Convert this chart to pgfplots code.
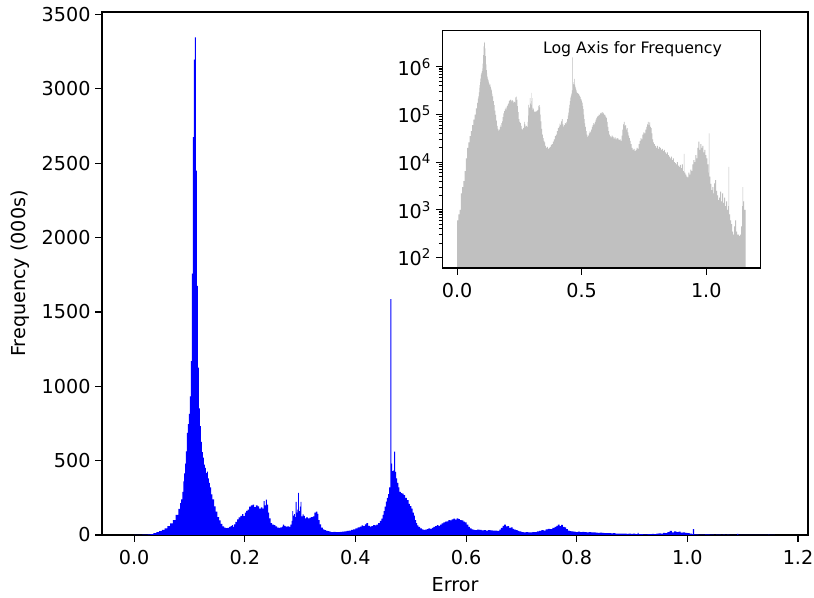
\documentclass[border=0pt]{standalone}
\usepackage{fontspec}
\setmainfont{DejaVu Sans}
\usepackage{pgfplots}
\usepackage{pgfplotstable}
\pgfplotsset{compat=1.18}
\definecolor{histblue}{HTML}{0000FF}
\definecolor{histgray}{HTML}{C0C0C0}

% bin left edge (error) and count in thousands
\pgfplotstableread{
x f
0.0000 0.6
0.0050 0.8
0.0100 1.0
0.0150 2.2
0.0200 3.0
0.0250 4.0
0.0300 6.5
0.0350 12
0.0400 20
0.0450 26
0.0500 35
0.0550 45
0.0600 60
0.0650 78
0.0700 100
0.0750 135
0.0800 175
0.0830 215
0.0850 240
0.0870 290
0.0890 360
0.0905 415
0.0920 480
0.0937 563
0.0955 686
0.0973 745
0.0991 815
0.1009 933
0.1027 1169
0.1045 1757
0.1063 2675
0.1081 3197
0.1099 3346
0.1117 2451
0.1135 1675
0.1153 1126
0.1171 851
0.1189 733
0.1207 627
0.1225 557
0.1243 521
0.1261 474
0.1279 451
0.1297 416
0.1315 427
0.1333 380
0.1351 350
0.1370 321
0.1390 274
0.1415 239
0.1445 192
0.1475 157
0.1505 121
0.1535 98
0.1565 74
0.1595 58
0.1625 50
0.1655 46
0.1685 48
0.1715 55
0.1745 60
0.1765 66
0.1785 55
0.1805 72
0.1830 88
0.1860 105
0.1890 118
0.1920 128
0.1950 140
0.1975 127
0.2000 150
0.2025 162
0.2050 170
0.2080 190
0.2110 200
0.2140 205
0.2170 188
0.2200 200
0.2230 192
0.2260 178
0.2290 185
0.2320 178
0.2340 228
0.2360 200
0.2380 238
0.2400 205
0.2420 150
0.2440 112
0.2465 80
0.2495 70
0.2525 66
0.2555 58
0.2585 50
0.2615 48
0.2645 52
0.2675 56
0.2690 70
0.2710 62
0.2740 56
0.2770 58
0.2800 55
0.2825 70
0.2845 95
0.2860 160
0.2875 130
0.2890 140
0.2905 120
0.2920 222
0.2935 150
0.2950 170
0.2965 283
0.2980 160
0.2995 190
0.3010 222
0.3025 125
0.3045 138
0.3065 128
0.3085 112
0.3110 118
0.3140 112
0.3170 116
0.3200 120
0.3230 125
0.3260 150
0.3285 158
0.3310 142
0.3330 100
0.3355 72
0.3380 50
0.3410 38
0.3440 32
0.3470 28
0.3500 26
0.3530 22
0.3560 20
0.3600 21
0.3640 19
0.3680 20
0.3720 21
0.3760 23
0.3800 24
0.3840 27
0.3880 30
0.3920 35
0.3960 38
0.4000 45
0.4040 52
0.4080 56
0.4110 64
0.4140 60
0.4170 72
0.4200 80
0.4230 62
0.4260 56
0.4290 60
0.4320 66
0.4350 64
0.4380 70
0.4410 80
0.4440 95
0.4470 110
0.4490 135
0.4510 160
0.4530 190
0.4550 225
0.4570 250
0.4590 275
0.4610 320
0.4630 1586
0.4648 480
0.4665 430
0.4685 435
0.4700 560
0.4718 425
0.4735 380
0.4755 350
0.4775 320
0.4795 290
0.4820 282
0.4845 278
0.4870 268
0.4900 250
0.4930 234
0.4960 210
0.4985 195
0.5010 178
0.5035 150
0.5055 130
0.5075 100
0.5095 80
0.5115 65
0.5140 55
0.5170 45
0.5200 38
0.5230 34
0.5260 36
0.5290 40
0.5320 44
0.5350 42
0.5380 48
0.5410 55
0.5440 60
0.5470 66
0.5500 62
0.5530 70
0.5560 78
0.5590 85
0.5620 90
0.5650 92
0.5680 100
0.5710 98
0.5740 105
0.5770 110
0.5800 104
0.5830 112
0.5860 106
0.5890 100
0.5920 98
0.5950 90
0.5980 85
0.6010 70
0.6040 55
0.6070 45
0.6100 38
0.6130 35
0.6160 33
0.6200 36
0.6240 34
0.6280 31
0.6320 33
0.6360 30
0.6400 32
0.6440 31
0.6480 29
0.6520 30
0.6560 28
0.6600 36
0.6630 48
0.6660 62
0.6690 70
0.6720 58
0.6750 60
0.6780 48
0.6810 52
0.6840 42
0.6870 36
0.6900 32
0.6930 28
0.6960 24
0.7000 20
0.7040 18
0.7080 19
0.7120 17
0.7160 18
0.7200 20
0.7240 19
0.7280 24
0.7320 28
0.7360 32
0.7400 30
0.7440 38
0.7480 42
0.7520 40
0.7560 48
0.7600 55
0.7630 62
0.7660 70
0.7690 60
0.7720 68
0.7750 55
0.7780 52
0.7810 40
0.7840 30
0.7870 26
0.7900 24
0.7940 22
0.7980 20
0.8020 22
0.8060 19
0.8100 21
0.8140 20
0.8180 18
0.8220 19
0.8260 17
0.8300 18
0.8340 16
0.8380 15
0.8420 16
0.8460 14
0.8500 13
0.8540 12
0.8580 13
0.8620 11
0.8660 12
0.8700 10
0.8740 9.5
0.8780 9
0.8820 10
0.8860 8.5
0.8900 8
0.8940 8.8
0.8980 7.5
0.9020 9
0.9060 6.5
0.9100 15
0.9120 6
0.9160 5.5
0.9200 5
0.9240 4.8
0.9280 6
0.9320 5.5
0.9360 7
0.9400 6.5
0.9440 9
0.9480 11
0.9520 10
0.9560 14
0.9600 12
0.9640 20
0.9680 27
0.9720 18
0.9760 24
0.9800 20
0.9840 22
0.9880 16
0.9920 18
0.9960 14
1.0000 12
1.0040 9
1.0080 6
1.0100 40
1.0120 5
1.0160 3.5
1.0200 2.6
1.0240 3
1.0280 2.2
1.0320 3.6
1.0360 4.2
1.0400 2.5
1.0440 2
1.0480 1.6
1.0520 1.8
1.0560 2.4
1.0600 1.5
1.0640 2.2
1.0680 1.4
1.0720 1.8
1.0760 1.2
1.0800 1.5
1.0840 1.0
1.0880 1.2
1.0900 8
1.0920 0.8
1.0960 0.6
1.1000 0.5
1.1040 0.35
1.1080 0.3
1.1120 0.45
1.1160 0.6
1.1200 0.35
1.1240 0.3
1.1280 0.3
1.1320 0.28
1.1360 0.3
1.1400 0.45
1.1440 1.2
1.1460 3
1.1480 1.5
1.1520 1.0
1.1580 1.0
}\errtab

\begin{document}
\begin{tikzpicture}
\path[use as bounding box] (-74.5pt,-45.3pt) rectangle (519.8pt,390.6pt);

\pgfplotsset{
  every axis/.append style={
    scale only axis,
    tick align=outside,
    tick pos=left,
    major tick length=4.9pt,
    minor tick length=2.8pt,
    axis line style={line width=0.8pt},
    every tick/.style={black, line width=0.8pt},
    ticklabel style={font=\fontsize{14}{16}\selectfont},
    xticklabel style={yshift=-2.5pt},
    label style={font=\fontsize{14}{16}\selectfont},
    /pgf/number format/assume math mode=true,
  },
}

\begin{axis}[
  name=main,
  width=515.4pt, height=381.8pt,
  xmin=-0.058, xmax=1.218,
  ymin=0, ymax=3517,
  xtick={0,0.2,0.4,0.6,0.8,1.0,1.2},
  xticklabel style={/pgf/number format/.cd, fixed, fixed zerofill, precision=1},
  ytick={0,500,1000,1500,2000,2500,3000,3500},
  yticklabel style={/pgf/number format/1000 sep={}},
  xlabel={Error},
  ylabel={Frequency (000s)},
  xlabel style={yshift=-3pt},
  ylabel style={yshift=2pt},
]
\addplot[const plot, fill=histblue, draw=none] table[x=x, y=f]{\errtab} \closedcycle;
\end{axis}

\begin{axis}[
  at={(248.7pt,194.9pt)}, anchor=south west,
  width=232.1pt, height=173.7pt,
  axis on top,
  axis background/.style={fill=white},
  ymode=log, log origin y=infty,
  xmin=-0.058, xmax=1.218,
  ymin=60, ymax=5.9e6,
  xtick={0,0.5,1},
  xticklabels={0.0,0.5,1.0},
  ytick={1e2,1e3,1e4,1e5,1e6},
  yticklabels={10\textsuperscript{2},10\textsuperscript{3},10\textsuperscript{4},10\textsuperscript{5},10\textsuperscript{6}},
]
\addplot[const plot, fill=histgray, draw=none] table[x=x, y expr=\thisrow{f}*1000]{\errtab} \closedcycle;
\node[font=\fontsize{11.5}{13}\selectfont] at (rel axis cs:0.597,0.92) {Log Axis for Frequency};
\end{axis}
\end{tikzpicture}
\end{document}
